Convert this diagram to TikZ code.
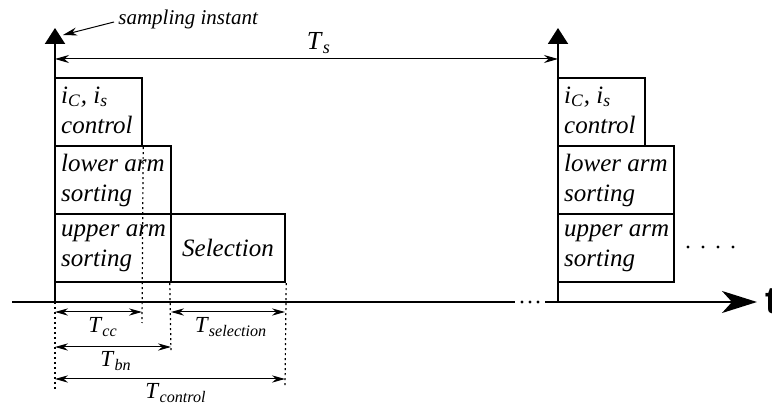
\documentclass[tikz,border=0pt]{standalone}
\usepackage{fontspec}
\setmainfont{Liberation Serif}
\newfontfamily\axisfont{Liberation Sans}
\usetikzlibrary{arrows.meta}
\newcommand\Tlab[1]{\textit{T}\textsubscript{\textit{#1}}}
\begin{document}
\begin{tikzpicture}[x=0.5pt,y=-0.5pt,
  box/.style={draw, line width=1.2pt, inner sep=0, minimum height=34pt},
  txt/.style={inner sep=0, align=left, font=\itshape\fontsize{12.5}{15}\selectfont},
  tlab/.style={inner sep=0, anchor=base, font=\fontsize{11.5}{13}\selectfont},
  dimline/.style={line width=0.5pt, {Stealth[length=6.5pt,width=3.6pt]}-{Stealth[length=6.5pt,width=3.6pt]}},
  guide/.style={line width=0.6pt, dash pattern=on 1pt off 1.5pt},
  vaxis/.style={line width=1pt, -{Triangle[length=8pt,width=10pt]}},
  haxis/.style={line width=1pt},
  dotmark/.style={fill, circle, inner sep=0, minimum size=1.6pt},
]
\useasboundingbox (0,0) rectangle (772,406);

% axes coordinates
\coordinate (L0) at (55,302);
\coordinate (Ltop) at (55,28);
\coordinate (R0) at (558,302);
\coordinate (Rtop) at (558,28);
\coordinate (ax0) at (12,302);
\coordinate (gapL) at (515,302);
\coordinate (gapR) at (545,302);
\coordinate (axend) at (757,302);

% vertical axes
\draw[vaxis] (L0) -- (Ltop);
\draw[vaxis] (R0) -- (Rtop);

% time axis
\draw[haxis] (ax0) -- (gapL);
\node[dotmark] (g1) at (522,302) {};
\node[dotmark] (g2) at (530,302) {};
\node[dotmark] (g3) at (538,302) {};
\draw[haxis, -{Stealth[length=17.5pt,width=11pt,inset=5pt]}] (gapR) -- (axend);
\node[anchor=west, inner sep=0, font=\axisfont\bfseries\fontsize{19}{21}\selectfont] (tlabel) at (765,301) {t};

% sampling instant
\node[anchor=west, inner sep=0, font=\itshape\fontsize{10.5}{12}\selectfont] (si) at (118,19) {sampling instant};
\coordinate (sitip) at (63,35);
\draw[line width=0.5pt, -{Stealth[length=7pt,width=4pt]}] ([xshift=-2pt,yshift=-1.5pt]si.west) -- (sitip);

% Ts
\coordinate (TsL) at (55,59);
\coordinate (TsR) at (558,59);
\draw[line width=0.5pt, {Stealth[length=7pt,width=4pt]}-{Stealth[length=7pt,width=4pt]}] (TsL) -- (TsR);
\node[tlab, font=\fontsize{13}{15}\selectfont] (Ts) at (319,50) {\Tlab{s}};

% left boxes
\node[box, minimum width=43.5pt] (b1) at (98.5,112) {};
\node[box, minimum width=58pt] (b2) at (113,180) {};
\node[box, minimum width=58pt] (b3) at (113,248) {};
\node[box, minimum width=57pt] (b4) at (228,248) {};
\node[txt, anchor=west] (t1) at ([xshift=3.5pt,yshift=1pt]b1.west) {\textit{i}\textsubscript{\textit{C}}, \textit{i}\textsubscript{\textit{s}}\\control};
\node[txt, anchor=west] (t2) at ([xshift=3.5pt]b2.west) {lower arm\\sorting};
\node[txt, anchor=west] (t3) at ([xshift=3.5pt]b3.west) {upper arm\\sorting};
\node[txt] (t4) at (b4.center) {Selection};

% right boxes
\node[box, minimum width=43.5pt] (r1) at (601.5,112) {};
\node[box, minimum width=58pt] (r2) at (616,180) {};
\node[box, minimum width=58pt] (r3) at (616,248) {};
\node[txt, anchor=west] (s1) at ([xshift=3.5pt,yshift=1pt]r1.west) {\textit{i}\textsubscript{\textit{C}}, \textit{i}\textsubscript{\textit{s}}\\control};
\node[txt, anchor=west] (s2) at ([xshift=3.5pt]r2.west) {lower arm\\sorting};
\node[txt, anchor=west] (s3) at ([xshift=3.5pt]r3.west) {upper arm\\sorting};
\node[dotmark] (d1) at (688,247) {};
\node[dotmark] (d2) at (703,247) {};
\node[dotmark] (d3) at (718,247) {};
\node[dotmark] (d4) at (733,247) {};

% guide lines
\coordinate (gcc) at (142,323);
\coordinate (gbn) at (171,353);
\coordinate (gsel) at (285,387);
\coordinate (g0) at (55,390);
\draw[guide] (b1.south east) -- (gcc);
\draw[guide] (b4.south west) -- (gbn);
\draw[guide] (b4.south east) -- (gsel);
\draw[guide] (L0) -- (g0);

% dimensions
\coordinate (ccL) at (55,312);
\coordinate (ccR) at (142,312);
\coordinate (selL) at (171,312);
\coordinate (selR) at (285,312);
\coordinate (bnL) at (55,347);
\coordinate (bnR) at (171,347);
\coordinate (coL) at (55,379);
\coordinate (coR) at (285,379);
\draw[dimline] (ccL) -- (ccR);
\draw[dimline] (selL) -- (selR);
\draw[dimline] (bnL) -- (bnR);
\draw[dimline] (coL) -- (coR);
\node[tlab] (Tcc) at (103,333) {\Tlab{cc}};
\node[tlab] (Tsel) at (231,333) {\Tlab{selection}};
\node[tlab] (Tbn) at (116,367) {\Tlab{bn}};
\node[tlab] (Tco) at (176,399) {\Tlab{control}};
\end{tikzpicture}
\end{document}
